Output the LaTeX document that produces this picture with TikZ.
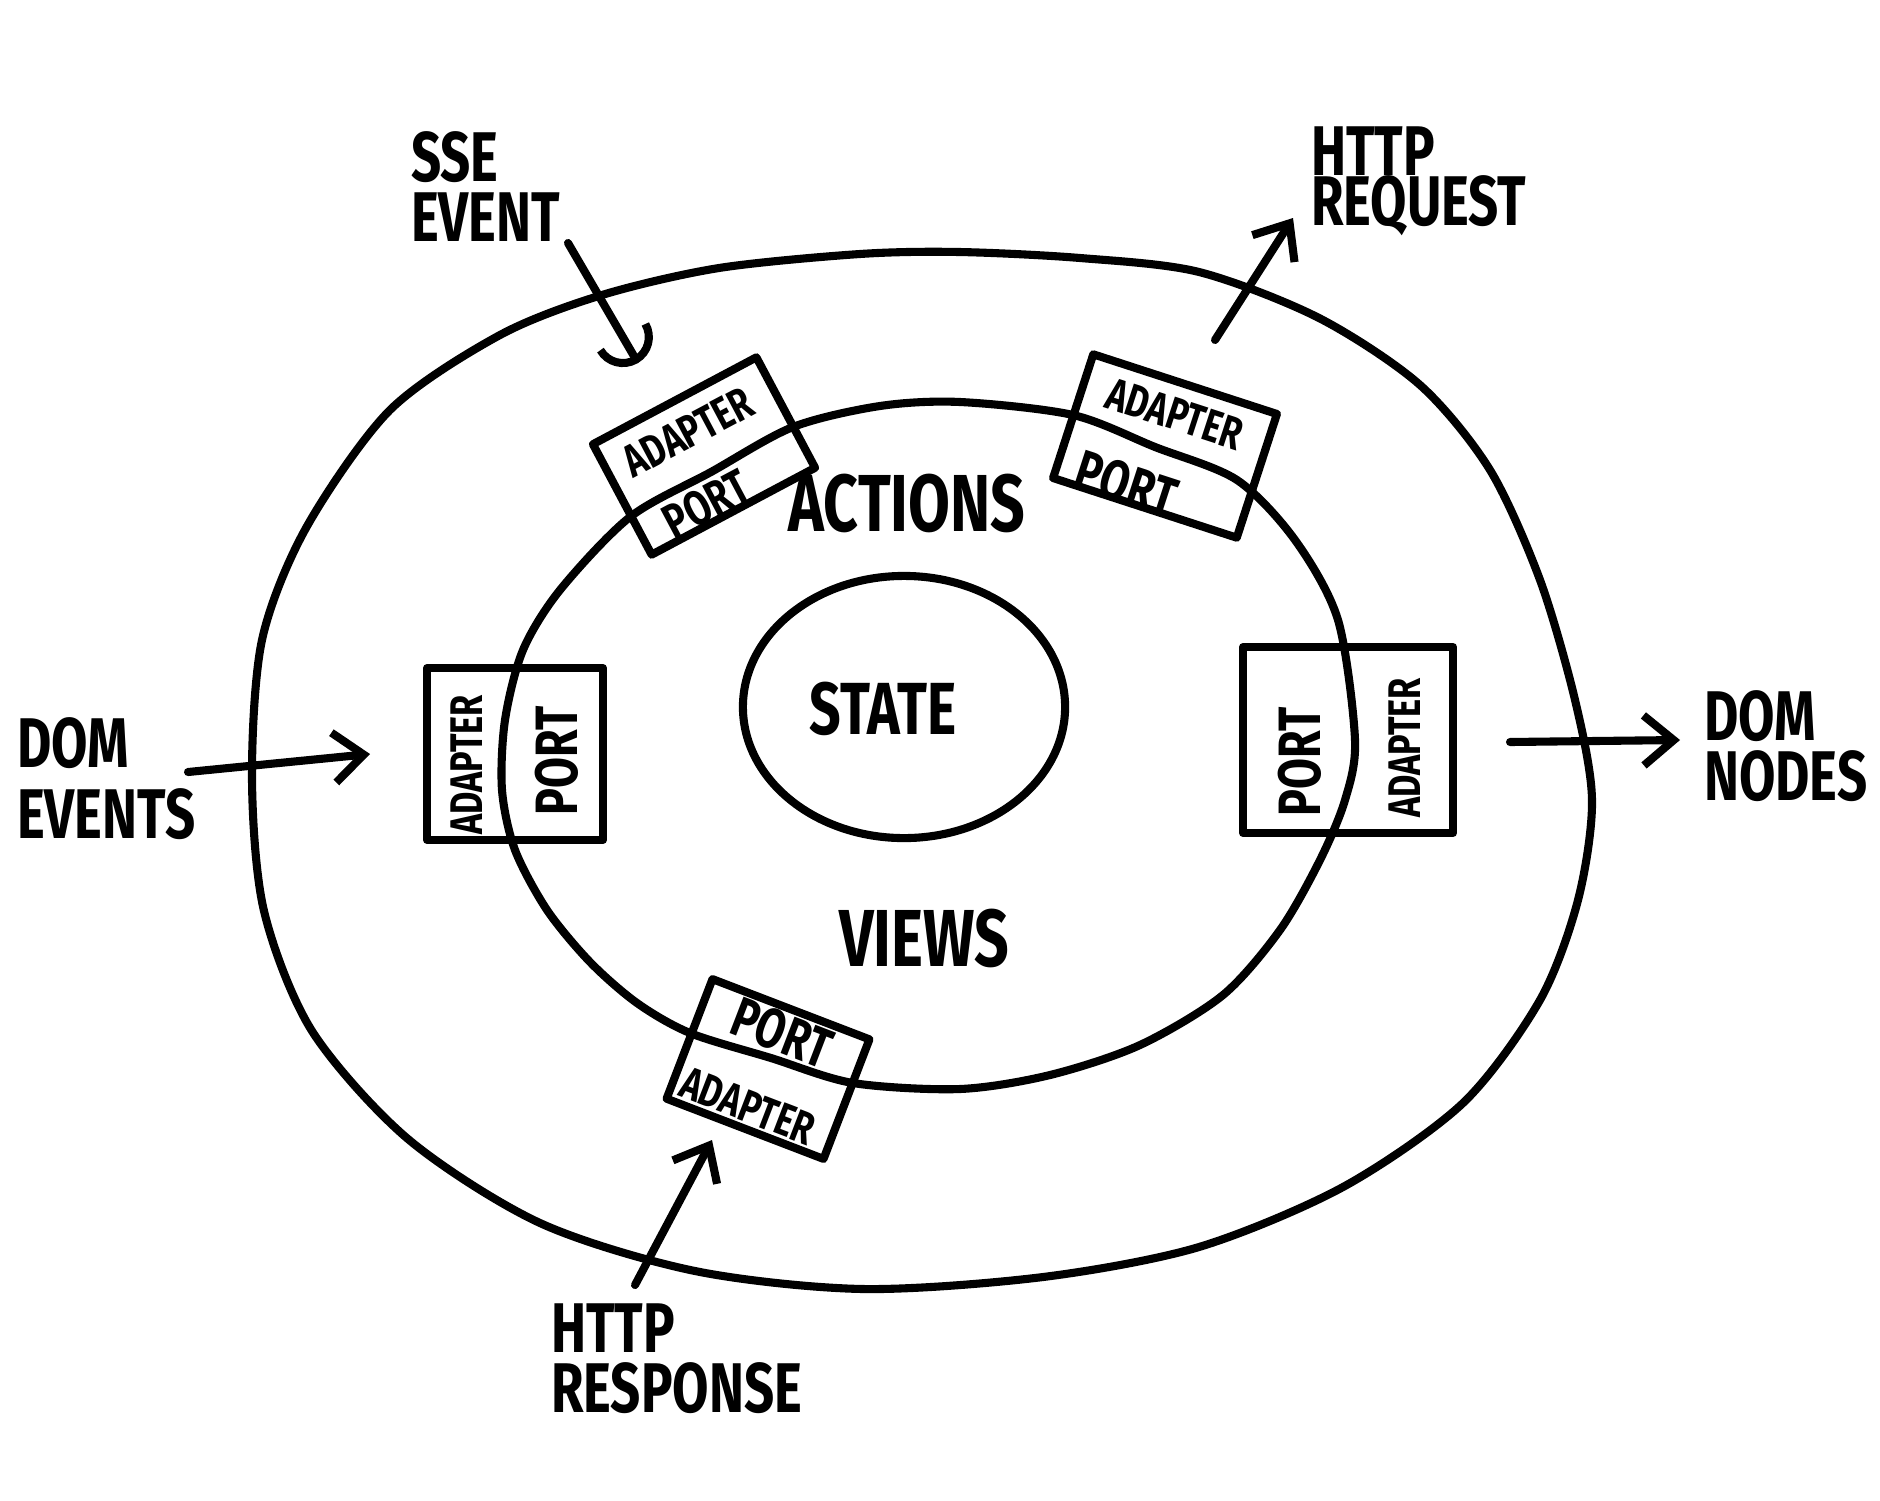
\documentclass[tikz,border=0pt]{standalone}
\usepackage{fontspec}
\setmainfont[FakeStretch=0.75]{Fira Sans}
\usepackage{tikz}
\usetikzlibrary{arrows.meta,shapes.geometric}

\begin{document}
\begin{tikzpicture}[x=0.01cm, y=-0.01cm, line width=2.3pt, line join=round, line cap=round,
  lbl/.style={font=\bfseries\fontsize{20}{17}\selectfont, align=left, inner sep=0pt, anchor=north west},
  ring/.style={font=\bfseries\fontsize{23}{26}\selectfont, inner sep=0pt},
  pbox/.style={draw, rectangle, inner sep=0pt},
  adtxt/.style={font=\bfseries\fontsize{13}{15}\selectfont, inner sep=0pt},
  pttxt/.style={font=\bfseries\fontsize{16}{18}\selectfont, inner sep=0pt},
  flow/.style={-{Straight Barb[length=3mm, width=5mm]}}]

\useasboundingbox (0,0) rectangle (1880,1500);

% outer ring
\draw plot[smooth cycle] coordinates {(252,779) (262,640) (306,528) (390,410) (500,335)
  (602,295) (719,268) (860,254) (959,252) (1080,258) (1199,272) (1319,318) (1420,385)
  (1490,470) (1540,580) (1575,700) (1592,800) (1578,900) (1540,1000) (1463,1103)
  (1343,1187) (1199,1247) (1043,1277) (863,1289) (695,1271) (540,1223) (408,1139)
  (312,1031) (264,911)};

% middle ring
\draw plot[smooth cycle] coordinates {(523,650) (560,590) (630,517) (711,472)
  (793,427) (880,406) (960,402) (1073,415) (1155,447) (1237,480) (1295,540) (1338,620)
  (1355,740) (1345,800) (1320,860) (1280,930) (1223,995) (1140,1045) (1050,1075)
  (960,1089) (853,1083) (771,1058) (690,1033) (637,1003) (590,962) (547,910) (515,850)
  (502,790) (505,720)};

% core
\node[draw, ellipse, minimum width=3.22cm, minimum height=2.62cm, inner sep=0pt] (state) at (904,707) {};
\node[ring, font=\bfseries\fontsize{21}{24}\selectfont] (statelbl) at (883,709) {STATE};
\node[ring] (actions) at (907,503) {ACTIONS};
\node[ring] (views) at (924,938) {VIEWS};

% ports and adapters
\node[pbox, rotate=28, minimum width=1.85cm, minimum height=1.25cm] (sse-box) at (704,456) {};
\node[adtxt, rotate=28] (sse-ad) at (688,432) {ADAPTER};
\node[pttxt, font=\bfseries\fontsize{14}{16}\selectfont, rotate=28] (sse-pt) at (706,504) {PORT};

\node[pbox, rotate=-18, minimum width=1.93cm, minimum height=1.3cm] (req-box) at (1165,446) {};
\node[adtxt, rotate=-18] (req-ad) at (1175,414) {ADAPTER};
\node[pttxt, rotate=-18] (req-pt) at (1126,484) {PORT};

\node[pbox, minimum width=1.76cm, minimum height=1.72cm] (dom-box) at (515,754) {};
\node[adtxt, rotate=90] (dom-ad) at (467,765) {ADAPTER};
\node[pttxt, font=\bfseries\fontsize{17}{19}\selectfont, rotate=90] (dom-pt) at (557,761) {PORT};

\node[pbox, minimum width=2.1cm, minimum height=1.86cm] (out-box) at (1348,740) {};
\node[pttxt, font=\bfseries\fontsize{17}{19}\selectfont, rotate=90] (out-pt) at (1300,762) {PORT};
\node[adtxt, rotate=90] (out-ad) at (1405,748) {ADAPTER};

\node[pbox, rotate=-21, minimum width=1.68cm, minimum height=1.28cm] (resp-box) at (768,1069) {};
\node[pttxt, rotate=-21] (resp-pt) at (782,1033) {PORT};
\node[adtxt, rotate=-21] (resp-ad) at (748,1106) {ADAPTER};

% outside world
\node[lbl] (sse) at (407,128) {SSE\\EVENT};
\node[lbl] (req) at (1307,123) {HTTP\\[-3pt]REQUEST};
\node[lbl] (domin) at (13,714) {DOM\\[3pt]EVENTS};
\node[lbl] (domout) at (1700,687) {DOM\\NODES};
\node[lbl] (resp) at (547,1300) {HTTP\\RESPONSE};

\coordinate (sse-from) at (568,243);
\coordinate (sse-to) at (638,363);
\coordinate (req-from) at (1215,340);
\coordinate (req-to) at (1293,218);
\coordinate (domin-from) at (188,772);
\coordinate (domin-to) at (370,754);
\coordinate (domout-from) at (1510,742);
\coordinate (domout-to) at (1680,740);
\coordinate (resp-from) at (635,1285);
\coordinate (resp-to) at (712,1140);

\draw[-{Arc Barb[length=3mm, width=6mm]}] (sse-from) -- (sse-to);
\draw[flow] (req-from) -- (req-to);
\draw[flow] (domin-from) -- (domin-to);
\draw[flow] (domout-from) -- (domout-to);
\draw[flow] (resp-from) -- (resp-to);
\end{tikzpicture}
\end{document}
